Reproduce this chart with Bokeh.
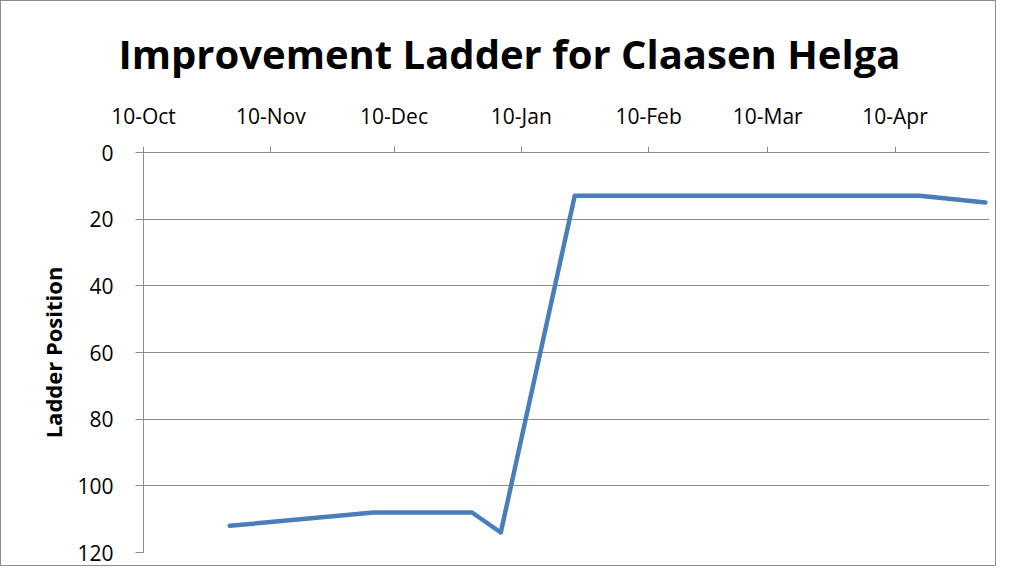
from datetime import datetime
from bokeh.plotting import figure
from bokeh.models import Range1d, FixedTicker
from bokeh.embed import file_html
from bokeh.resources import INLINE

# ---- data ----
dates = ["2011-10-31", "2011-12-05", "2011-12-29", "2012-01-05",
         "2012-01-23", "2012-04-16", "2012-05-02"]
positions = [112, 108, 108, 114, 13, 13, 15]

tick_dates = ["2011-10-10", "2011-11-10", "2011-12-10", "2012-01-10",
              "2012-02-10", "2012-03-10", "2012-04-10"]
tick_labels = ["10-Oct", "10-Nov", "10-Dec", "10-Jan", "10-Feb", "10-Mar", "10-Apr"]
y_ticks = [0, 20, 40, 60, 80, 100, 120]

x_start = "2011-10-10"
x_end = "2012-05-03"

def to_dt(s):
    return datetime.strptime(s, "%Y-%m-%d")

def to_ms(s):
    return (to_dt(s) - datetime(1970, 1, 1)).total_seconds() * 1000.0

xs = [to_dt(d) for d in dates]

FONT = "Open Sans"
GRAY = "#8c8c8c"

p = figure(width=996, height=566, output_backend="svg", toolbar_location=None,
           x_axis_type="datetime", x_axis_location="above",
           x_range=Range1d(to_dt(x_start), to_dt(x_end)),
           y_range=Range1d(120, 0),
           title="Improvement Ladder for Claasen Helga",
           min_border_left=142, min_border_right=8,
           min_border_bottom=15, min_border_top=151)

p.title.align = "left"
p.title.offset = -25
p.title.text_font = FONT
p.title.text_font_style = "bold"
p.title.text_font_size = "40px"
p.title.text_color = "black"
p.title.standoff = 36

p.outline_line_color = None
p.background_fill_color = "white"
p.border_fill_color = "white"

xa = p.xaxis[0]
tick_ms = [to_ms(d) for d in tick_dates]
xa.ticker = FixedTicker(ticks=tick_ms)
xa.major_label_overrides = {t: lab for t, lab in zip(tick_ms, tick_labels)}
xa.minor_tick_line_color = None
xa.major_tick_in = 0
xa.major_tick_out = 6
xa.axis_line_color = GRAY
xa.major_tick_line_color = GRAY
xa.major_label_text_font = FONT
xa.major_label_text_font_size = "21px"
xa.major_label_text_color = "black"
xa.major_label_standoff = 17

ya = p.yaxis[0]
ya.ticker = FixedTicker(ticks=y_ticks)
ya.minor_tick_line_color = None
ya.major_tick_in = 0
ya.major_tick_out = 8
ya.axis_line_color = GRAY
ya.major_tick_line_color = GRAY
ya.major_label_text_font = FONT
ya.major_label_text_font_size = "21px"
ya.major_label_text_color = "black"
ya.major_label_standoff = 22
ya.axis_label = "Ladder Position"
ya.axis_label_text_font = FONT
ya.axis_label_text_font_style = "bold"
ya.axis_label_text_font_size = "22px"
ya.axis_label_text_color = "black"
ya.axis_label_standoff = 6

p.xgrid.grid_line_color = None
p.ygrid.ticker = FixedTicker(ticks=y_ticks)
p.ygrid.grid_line_color = GRAY
p.ygrid.grid_line_width = 1

p.line(xs, positions, line_color="#4a7ebb", line_width=4.5,
       line_join="round", line_cap="round")

p.styles = {"border": "1px solid #8c8c8c", "box-sizing": "border-box"}

open("out.html", "w").write(file_html(p, INLINE))
